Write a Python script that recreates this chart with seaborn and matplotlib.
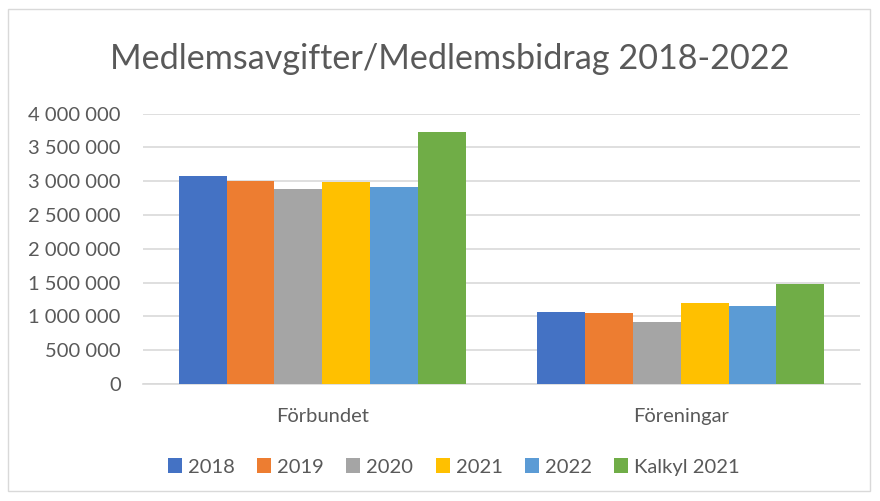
import numpy as np
import pandas as pd
import matplotlib
matplotlib.use("Agg")
import matplotlib.pyplot as plt
import seaborn as sns

categories = ['Förbundet', 'Föreningar']
series = ['2018', '2019', '2020', '2021', '2022', 'Kalkyl 2021']
values = {
    '2018': [3080000, 1068000],
    '2019': [2995000, 1053000],
    '2020': [2880000, 910000],
    '2021': [2985000, 1202000],
    '2022': [2915000, 1147000],
    'Kalkyl 2021': [3727000, 1479000],
}
colors = ['#4472C4', '#ED7D31', '#A5A5A5', '#FFC000', '#5B9BD5', '#70AD47']
yticks = [0, 500000, 1000000, 1500000, 2000000, 2500000, 3000000, 3500000, 4000000]

rows = []
for s in series:
    for c, v in zip(categories, values[s]):
        rows.append({'kategori': c, 'serie': s, 'belopp': v})
df = pd.DataFrame(rows)

sns.set_theme(style="white")
plt.rcParams['font.family'] = ['Lato', 'DejaVu Sans']

fig = plt.figure(figsize=(8.8, 5.01), dpi=100)
ax = fig.add_axes([143 / 880, 1 - 384 / 501, (860 - 143) / 880, (384 - 113.5) / 501])

sns.barplot(data=df, x='kategori', y='belopp', hue='serie', hue_order=series,
            order=categories, palette=colors, width=0.8, saturation=1,
            edgecolor='none', linewidth=0, ax=ax, legend=False, zorder=3)

ax.set_ylim(0, 4000000)
ax.set_xlim(-0.5, 1.5)
ax.set_yticks(yticks)
ax.set_yticklabels([f"{t:,}".replace(',', ' ') for t in yticks])
ax.yaxis.grid(True, color='#D9D9D9', linewidth=1.2, zorder=0)
ax.set_axisbelow(True)
for sp in ['left', 'right', 'top']:
    ax.spines[sp].set_visible(False)
ax.spines['bottom'].set_color('#D9D9D9')
ax.spines['bottom'].set_linewidth(1.2)
ax.tick_params(axis='both', length=0, labelsize=14.5, colors='#595959')
ax.tick_params(axis='y', pad=16)
ax.tick_params(axis='x', pad=17)
ax.set_xlabel('')
ax.set_ylabel('')

fig.text(450 / 880, 1 - 59 / 501, 'Medlemsavgifter/Medlemsbidrag 2018-2022',
         ha='center', va='center', fontsize=24.6, color='#595959')

handles = [plt.Rectangle((0, 0), 1, 1, fc=c, edgecolor='none') for c in colors]
leg = fig.legend(handles, series, loc='center', bbox_to_anchor=(454 / 880, 1 - 467 / 501),
                 ncol=6, frameon=False, fontsize=14.5, handlelength=0.7, handleheight=0.7,
                 handletextpad=0.3, columnspacing=1.1)
for t in leg.get_texts():
    t.set_color('#595959')

border = plt.Rectangle((8 / 880, 10 / 501), 862 / 880, 482 / 501, transform=fig.transFigure,
                       fill=False, edgecolor='#D9D9D9', linewidth=1)
fig.patches.append(border)

fig.savefig('out.png', dpi=100, facecolor='white')
